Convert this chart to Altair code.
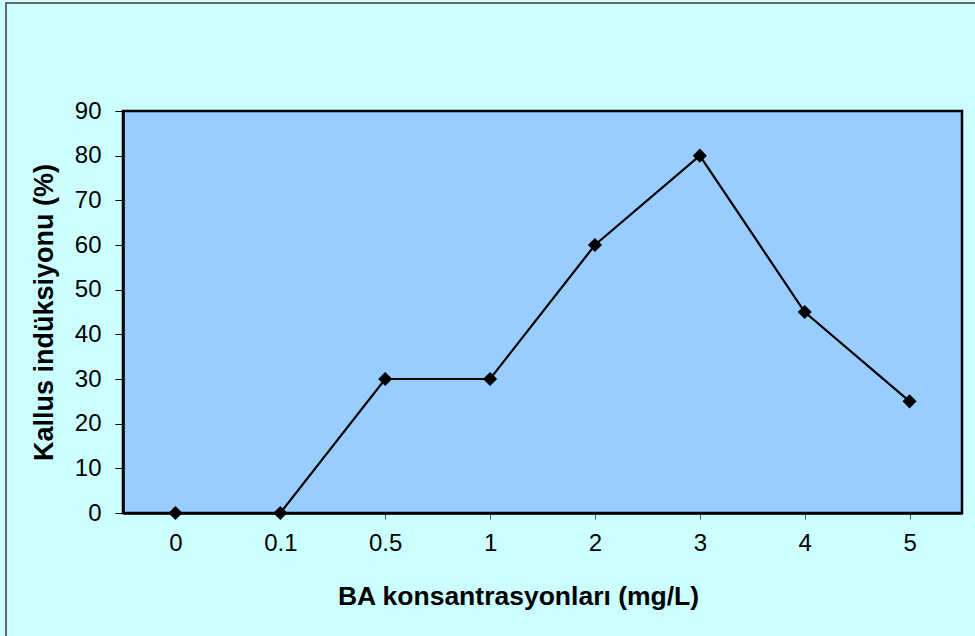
import altair as alt
import pandas as pd

concentrations = ["0", "0.1", "0.5", "1", "2", "3", "4", "5"]
induction = [0, 0, 30, 30, 60, 80, 45, 25]
y_ticks = [0, 10, 20, 30, 40, 50, 60, 70, 80, 90]

df = pd.DataFrame({"conc": concentrations, "val": induction})

FONT = "Liberation Sans"

x_enc = alt.X(
    "conc:N",
    sort=concentrations,
    scale=alt.Scale(type="point", padding=0.5),
    axis=alt.Axis(
        title="BA konsantrasyonları (mg/L)",
        labelAngle=0,
        labelFont=FONT,
        labelFontSize=24,
        labelColor="black",
        labelPadding=12,
        titleFont=FONT,
        titleFontSize=26.5,
        titleFontWeight="bold",
        titleColor="black",
        titlePadding=28,
        titleX=395,
        titleAlign="center",
        tickColor="#555555",
        tickSize=6,
        tickWidth=1,
        domainColor="black",
        domainWidth=2.5,
        grid=False,
    ),
)
y_enc = alt.Y(
    "val:Q",
    scale=alt.Scale(domain=[0, 90], nice=False),
    axis=alt.Axis(
        title="Kallus indüksiyonu (%)",
        values=y_ticks,
        labelFont=FONT,
        labelFontSize=24,
        labelColor="black",
        labelPadding=14,
        titleFont=FONT,
        titleFontSize=27,
        titleFontWeight="bold",
        titleColor="black",
        titlePadding=16,
        tickColor="black",
        tickSize=8,
        tickWidth=1,
        domainColor="black",
        domainWidth=2.5,
        grid=False,
    ),
)

frame = alt.Chart(df).mark_rect(
    fill="transparent", stroke="#666666", strokeWidth=2
).encode(
    x=alt.value(-117), x2=alt.value(900), y=alt.value(-108), y2=alt.value(560)
)

line = alt.Chart(df).mark_line(color="black", strokeWidth=2.2).encode(x=x_enc, y=y_enc)
pts = alt.Chart(df).mark_point(
    shape="diamond", filled=True, color="black", size=200, opacity=1
).encode(x=x_enc, y=y_enc)

chart = alt.layer(frame, line, pts).properties(
    width=839,
    height=402,
    autosize=alt.AutoSizeParams(type="none"),
    padding={"left": 123, "top": 111, "right": 13, "bottom": 123},
    background="#ccffff",
).configure_view(fill="#99ccff", stroke="black", strokeWidth=2.5)

chart.save("out.html", embed_options={"renderer": "svg", "actions": False})
